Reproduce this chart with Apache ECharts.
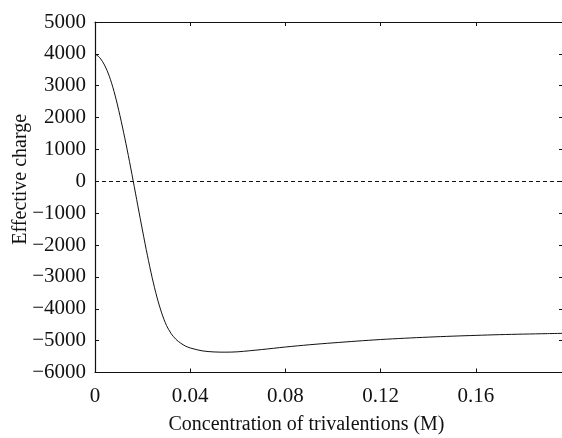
<!DOCTYPE html>
<html>
<head>
<meta charset="utf-8">
<script src="https://cdn.jsdelivr.net/npm/echarts@6/dist/echarts.min.js"></script>
<style>
  html, body { margin: 0; padding: 0; background: #fff; }
  #chart { width: 562px; height: 438px; }
</style>
</head>
<body>
<div id="chart"></div>
<script>
// Concentration of trivalent ions (M)
const concentration = [
  0, 0.002, 0.004, 0.006, 0.008, 0.010, 0.012, 0.014, 0.016, 0.018,
  0.020, 0.022, 0.024, 0.026, 0.028, 0.030, 0.032, 0.034, 0.036, 0.038,
  0.040, 0.045, 0.050, 0.055, 0.060, 0.070, 0.080, 0.090, 0.100, 0.110,
  0.120, 0.130, 0.140, 0.150, 0.160, 0.170, 0.180, 0.190, 0.197
];
// Effective charge at each concentration
const effectiveCharge = [
  4000, 3880, 3650, 3300, 2820, 2220, 1540, 810, 30, -770,
  -1560, -2320, -3020, -3630, -4130, -4520, -4780, -4960, -5080, -5170,
  -5230, -5320, -5355, -5362, -5350, -5280, -5200, -5130, -5070, -5015,
  -4965, -4925, -4890, -4860, -4835, -4812, -4795, -4780, -4770
];

const xMin = 0, xMax = 0.197, xStep = 0.04;
const yMin = -6000, yMax = 5000, yStep = 1000;

const font = 'Liberation Serif';
const ink = '#111';

const points = concentration.map((c, i) => [c, effectiveCharge[i]]);

const fmtX = v => (v === 0 ? '0' : v.toFixed(2));
const fmtY = v => (v < 0 ? '\u2212' + Math.abs(v) : String(v));

const chart = echarts.init(document.getElementById('chart'), null, { renderer: 'canvas' });

const frameLine = { show: true, onZero: false, lineStyle: { color: ink, width: 1.2 } };
const innerTick = { show: true, inside: true, length: 4, lineStyle: { color: ink, width: 1 } };

chart.setOption({
  animation: false,
  backgroundColor: '#fff',
  grid: {
    left: 95, right: -2, top: 22, bottom: 65.5,
    containLabel: false, outerBoundsMode: 'none'
  },
  xAxis: [
    {
      type: 'value', position: 'bottom', min: xMin, max: xMax, interval: xStep,
      name: 'Concentration of trivalentions (M)',
      nameLocation: 'middle', nameGap: 42, nameMoveOverlap: false,
      nameTextStyle: { fontFamily: font, fontSize: 20, color: ink, padding: [0, 46, 0, 0] },
      axisLine: frameLine, axisTick: innerTick,
      axisLabel: { fontFamily: font, fontSize: 21, color: ink, margin: 13,
                   formatter: fmtX, showMaxLabel: false },
      splitLine: { show: false }
    },
    {
      type: 'value', position: 'top', min: xMin, max: xMax, interval: xStep,
      axisLine: frameLine, axisTick: innerTick,
      axisLabel: { show: false }, splitLine: { show: false }
    }
  ],
  yAxis: [
    {
      type: 'value', position: 'left', min: yMin, max: yMax, interval: yStep,
      name: 'Effective charge', nameLocation: 'middle', nameGap: 64, nameMoveOverlap: false,
      nameTextStyle: { fontFamily: font, fontSize: 20, color: ink, padding: [0, 0, 0, 36] },
      axisLine: frameLine, axisTick: innerTick,
      axisLabel: { fontFamily: font, fontSize: 21, color: ink, margin: 9, formatter: fmtY },
      splitLine: { show: false }
    },
    {
      type: 'value', position: 'right', min: yMin, max: yMax, interval: yStep,
      axisLine: frameLine, axisTick: { show: true, inside: true, length: 5, lineStyle: { color: ink, width: 1 } },
      axisLabel: { show: false }, splitLine: { show: false }
    }
  ],
  series: [
    {
      type: 'line',
      data: points,
      xAxisIndex: 0, yAxisIndex: 0,
      smooth: 0.3,
      showSymbol: false,
      lineStyle: { color: ink, width: 1 },
      markLine: {
        silent: true,
        symbol: 'none',
        label: { show: false },
        lineStyle: { color: ink, width: 1, type: [4, 3] },
        data: [{ yAxis: 0 }]
      }
    }
  ]
});
</script>
</body>
</html>
